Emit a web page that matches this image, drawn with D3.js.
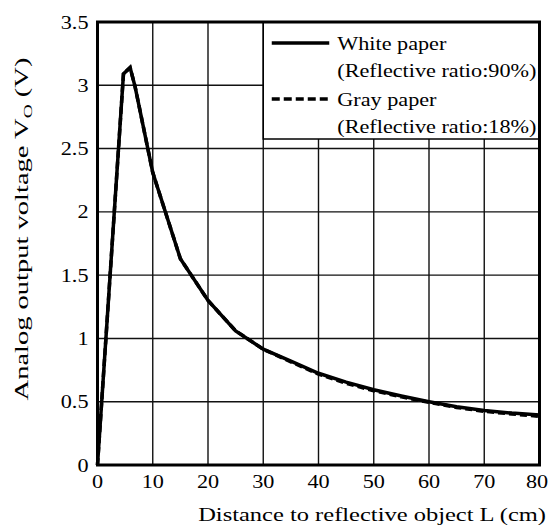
<!DOCTYPE html>
<html>
<head>
<meta charset="utf-8">
<script src="https://cdn.jsdelivr.net/npm/d3@7"></script>
<style>
  body { margin: 0; background: #fff; }
  text { font-family: 'Liberation Serif', 'Times New Roman', serif; fill: #000; font-size: 19px; }
</style>
</head>
<body>
<svg width="549" height="529"></svg>
<script>
const distance = [0, 4.7, 5.9, 6.8, 10, 15, 20, 25, 30, 35, 40, 45, 50, 55, 60, 65, 70, 75, 80]
const whitePaper = [0, 3.09, 3.14, 2.99, 2.31, 1.63, 1.30, 1.06, 0.915, 0.82, 0.725, 0.655, 0.595, 0.545, 0.50, 0.46, 0.43, 0.41, 0.395]
const grayPaper = [0, 3.09, 3.14, 2.99, 2.31, 1.63, 1.30, 1.06, 0.915, 0.815, 0.718, 0.645, 0.587, 0.538, 0.495, 0.455, 0.424, 0.403, 0.385]
const xTicks = [0, 10, 20, 30, 40, 50, 60, 70, 80]
const yTicks = [0, 0.5, 1, 1.5, 2, 2.5, 3, 3.5]

const svg = d3.select('svg')
const margin = {top: 22, right: 9.5, bottom: 64, left: 97.5}
const width = +svg.attr('width') - margin.left - margin.right
const height = +svg.attr('height') - margin.top - margin.bottom
const stretch = 1.17   // the scanned lettering is wider than Liberation Serif

const x = d3.scaleLinear().domain([0, 80]).range([0, width])
const y = d3.scaleLinear().domain([0, 3.5]).range([height, 0])

const g = svg.append('g').attr('transform', `translate(${margin.left},${margin.top})`)

// grid
g.append('g')
  .selectAll('line')
  .data(xTicks.slice(1, -1))
  .join('line')
  .attr('x1', d => x(d)).attr('x2', d => x(d))
  .attr('y1', 0).attr('y2', height)
  .attr('stroke', '#111').attr('stroke-width', 1.4)

g.append('g')
  .selectAll('line')
  .data(yTicks.slice(1, -1))
  .join('line')
  .attr('x1', 0).attr('x2', width)
  .attr('y1', d => y(d)).attr('y2', d => y(d))
  .attr('stroke', '#111').attr('stroke-width', 1.4)

// tick labels (last one nudged so it stays inside the page)
g.append('g')
  .selectAll('text')
  .data(xTicks)
  .join('text')
  .attr('transform', d => `translate(${Math.min(x(d), width + margin.right - 12)},${height + 23}) scale(${stretch},1)`)
  .attr('text-anchor', 'middle')
  .text(d => d)

g.append('g')
  .selectAll('text')
  .data(yTicks)
  .join('text')
  .attr('transform', d => `translate(-9,${y(d) + 6.5}) scale(${stretch},1)`)
  .attr('text-anchor', 'end')
  .text(d => d)

// legend box, its left edge sits on the 30 cm grid line
const lg = g.append('g').attr('transform', `translate(${x(30)},0)`)
lg.append('rect')
  .attr('width', width - x(30)).attr('height', 117)
  .attr('fill', '#fff').attr('stroke', '#000').attr('stroke-width', 1.5)

const legendItems = [
  {label: 'White paper', sub: '(Reflective ratio:90%)', dash: null},
  {label: 'Gray paper', sub: '(Reflective ratio:18%)', dash: '8,4'}
]
legendItems.forEach((item, i) => {
  const yy = 21 + i * 56
  lg.append('line')
    .attr('x1', 8.5).attr('x2', 66)
    .attr('y1', yy).attr('y2', yy)
    .attr('stroke', '#000').attr('stroke-width', 3.5)
    .attr('stroke-dasharray', item.dash)
  lg.append('text').attr('transform', `translate(74,${yy + 7}) scale(${stretch},1)`).text(item.label)
  lg.append('text').attr('transform', `translate(74,${yy + 34}) scale(${stretch},1)`).text(item.sub)
})

// lines
const line = d3.line().x((d, i) => x(distance[i])).y(d => y(d))

g.append('path')
  .datum(grayPaper)
  .attr('d', line)
  .attr('fill', 'none').attr('stroke', '#000').attr('stroke-width', 3.5)
  .attr('stroke-dasharray', '7,4')

g.append('path')
  .datum(whitePaper)
  .attr('d', line)
  .attr('fill', 'none').attr('stroke', '#000').attr('stroke-width', 3.5)

// frame
g.append('rect')
  .attr('width', width).attr('height', height)
  .attr('fill', 'none').attr('stroke', '#000').attr('stroke-width', 3)

// axis titles
svg.append('text')
  .attr('transform', 'translate(546,521) scale(1.29,1)')
  .attr('text-anchor', 'end')
  .text('Distance to reflective object L (cm)')

const yt = svg.append('text')
  .attr('transform', 'translate(28,229) rotate(-90) scale(1.5,1)')
  .attr('text-anchor', 'middle')
yt.append('tspan').text('Analog output voltage V')
yt.append('tspan').attr('dy', 4).style('font-size', '13px').text('O')
yt.append('tspan').attr('dy', -4).text(' (V)')
</script>
</body>
</html>
